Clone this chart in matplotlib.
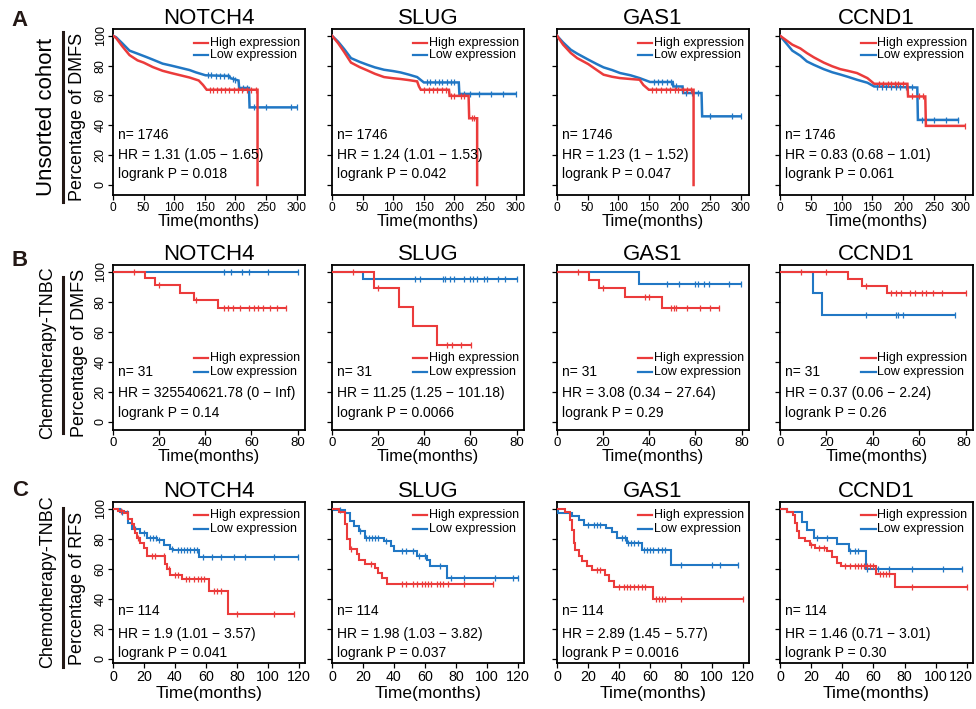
import numpy as np
import matplotlib
matplotlib.use('Agg')
import matplotlib.pyplot as plt
from matplotlib.lines import Line2D
from matplotlib.transforms import ScaledTranslation

plt.rcParams['font.family'] = ['Liberation Sans', 'DejaVu Sans']

# ---------------- data ----------------
genes = ['NOTCH4', 'SLUG', 'GAS1', 'CCND1']
row_letters = ['A', 'B', 'C']
row_groups = ['Unsorted cohort', 'Chemotherapy-TNBC', 'Chemotherapy-TNBC']
row_ylabels = ['Percentage of DMFS', 'Percentage of DMFS', 'Percentage of RFS']
legend_labels = ['High expression', 'Low expression']
n_values = ['1746', '31', '114']

hr_text = [
    ['1.31 (1.05 \u2212 1.65)', '1.24 (1.01 \u2212 1.53)', '1.23 (1 \u2212 1.52)', '0.83 (0.68 \u2212 1.01)'],
    ['325540621.78 (0 \u2212 Inf)', '11.25 (1.25 \u2212 101.18)', '3.08 (0.34 \u2212 27.64)', '0.37 (0.06 \u2212 2.24)'],
    ['1.9 (1.01 \u2212 3.57)', '1.98 (1.03 \u2212 3.82)', '2.89 (1.45 \u2212 5.77)', '1.46 (0.71 \u2212 3.01)'],
]
p_text = [
    ['0.018', '0.042', '0.047', '0.061'],
    ['0.14', '0.0066', '0.29', '0.26'],
    ['0.041', '0.037', '0.0016', '0.30'],
]

# Row A (unsorted cohort, DMFS) -- many events, curves given as points
a1_hi_t = [0, 5, 15, 27, 40, 50, 65, 81, 95, 108, 125, 140, 147, 153, 236, 236]
a1_hi_s = [100, 98.5, 93, 87, 83.5, 82, 79, 76.5, 75, 73.7, 72, 70, 67, 63.8, 63.8, 0]
a1_hi_c = [158, 163, 170, 176, 183, 190, 197, 204, 211, 218, 226, 233]
a1_lo_t = [0, 5, 15, 27, 40, 54, 65, 81, 95, 108, 125, 135, 151, 190, 192, 205, 206, 222, 223, 300]
a1_lo_s = [100, 99, 95, 90, 88, 85.8, 84, 81.3, 80, 78.7, 77, 75.5, 73.5, 73, 71.5, 70, 65, 65, 52, 52]
a1_lo_c = [155, 160, 168, 175, 182, 188, 196, 200, 212, 218, 230, 250, 290, 300]

a2_hi_t = [0, 10, 20, 31, 45, 58, 70, 85, 100, 112, 125, 139, 142, 145, 191, 192, 223, 224, 237, 237]
a2_hi_s = [100, 95, 89, 82, 79, 76.7, 74.5, 72.3, 71.5, 71, 70.3, 69.4, 66, 63.8, 63.8, 59.7, 59.7, 44.7, 44.7, 0]
a2_hi_c = [150, 158, 165, 172, 180, 186, 195, 200, 210, 215, 228, 232]
a2_lo_t = [0, 10, 20, 31, 45, 58, 70, 85, 100, 112, 125, 139, 150, 207, 208, 300]
a2_lo_s = [100, 96, 91, 85, 82.5, 80.5, 78.8, 77.2, 76.3, 75.4, 74, 72.3, 68.7, 68.7, 61, 61]
a2_lo_c = [155, 160, 168, 175, 180, 188, 195, 200, 215, 225, 240, 260, 280, 300]

a3_hi_t = [0, 10, 22.6, 33, 51, 65, 76, 90, 103, 120, 135, 141, 150, 223, 223]
a3_hi_s = [100, 94, 88.4, 85, 81, 77, 73.9, 72.5, 71.6, 71, 70.5, 67, 63.8, 63.8, 0]
a3_hi_c = [155, 162, 170, 178, 185, 192, 198, 205, 212, 218]
a3_lo_t = [0, 10, 22.6, 33, 51, 65, 76, 90, 103, 120, 135, 152, 189, 190, 205, 206, 236, 237, 300]
a3_lo_s = [100, 95.5, 90.6, 88, 84, 81, 78.8, 77, 75, 73.5, 71.6, 69, 69, 66, 66, 61.6, 61.6, 46, 46]
a3_lo_c = [158, 165, 172, 180, 186, 195, 210, 220, 230, 250, 285, 300]

a4_hi_t = [0, 10, 20, 33, 43.6, 55, 71, 85, 98, 110, 125, 142, 153, 207, 208, 236, 237, 300]
a4_hi_s = [100, 97, 94, 91.5, 88.4, 85.5, 82, 79.5, 77.6, 76.5, 75, 71.6, 67.8, 67.8, 59.3, 59.3, 39.6, 39.6]
a4_hi_c = [160, 167, 175, 180, 186, 192, 200, 215, 225, 232, 300]
a4_lo_t = [0, 10, 20, 33, 43.6, 55, 71, 85, 98, 110, 125, 142, 153, 223, 224, 289]
a4_lo_s = [100, 95, 90, 86.6, 82.8, 80.5, 77.6, 75.5, 74, 72.5, 70.5, 68.5, 66, 65.3, 43.6, 43.6]
a4_lo_c = [158, 165, 172, 180, 188, 195, 205, 215, 230, 250, 270, 289]

# Row B (chemotherapy TNBC, DMFS) -- step functions
b1_hi_t = [0, 14, 18, 29, 35, 45.7, 75]
b1_hi_s = [100, 95.6, 91.1, 86, 81.1, 75.6, 75.6]
b1_hi_c = [9, 20, 36, 48, 50, 52, 55, 59, 61, 63, 65, 68, 71, 75]
b1_lo_t = [0, 80]
b1_lo_s = [100, 100]
b1_lo_c = [48, 51, 56, 59, 67, 80]

b2_hi_t = [0, 18, 29, 35, 45.7, 60.3]
b2_hi_s = [100, 88.9, 76.2, 63.8, 51.1, 51.1]
b2_hi_c = [9, 20, 50, 52, 56, 60.3]
b2_lo_t = [0, 13.6, 80]
b2_lo_s = [100, 94.9, 94.9]
b2_lo_c = [36, 38, 48, 49, 51, 53, 57, 60, 61, 63, 66, 67, 72, 75, 80]

b3_hi_t = [0, 14, 18.3, 29.4, 45.5, 70.3]
b3_hi_s = [100, 94.4, 88.9, 82.9, 76, 76]
b3_hi_c = [9, 20, 38, 40, 49.4, 50.8, 51.5, 56.5, 62, 66.4, 70.3]
b3_lo_t = [0, 35.4, 79.7]
b3_lo_s = [100, 91.8, 91.8]
b3_lo_c = [47.8, 53, 60, 61, 63.8, 66, 74.6, 79.7]

b4_hi_t = [0, 29.5, 35.3, 46.1, 80]
b4_hi_s = [100, 95.1, 90.7, 86, 86]
b4_hi_c = [9, 20, 37, 48, 50, 52, 56, 58, 61, 63, 66, 70, 80]
b4_lo_t = [0, 14.1, 18.3, 75.6]
b4_lo_s = [100, 86, 71.1, 71.1]
b4_lo_c = [37, 50, 51, 53, 75.6]

# Row C (chemotherapy TNBC, RFS) -- step functions
c1_hi_t = [0, 3, 7, 10, 12, 13.4, 14.5, 15.6, 17.7, 20, 22, 33.5, 35, 37, 44.8, 62, 74, 117]
c1_hi_s = [100, 98.4, 96.9, 93.3, 89.6, 86.2, 84, 80.7, 77.3, 74, 68.4, 62.9, 59.6, 56.2, 52.9, 45.1, 30.2, 30.2]
c1_hi_c = [5, 9, 16, 25, 27, 33, 36, 40, 42, 47, 49, 52, 55, 57, 59, 65, 67, 70, 80, 104, 117]
c1_lo_t = [0, 4.8, 10, 12.3, 17.7, 22, 28.5, 33, 37, 39, 55.6, 119.4]
c1_lo_s = [100, 97.8, 90.7, 86.7, 84, 80.7, 79.1, 76.2, 73.3, 72.4, 68, 68]
c1_lo_c = [6, 14, 20, 24, 26, 28, 30, 38, 42, 44, 46, 48, 50, 52, 54, 58, 64, 70, 78, 85, 104, 119.4]

c2_hi_t = [0, 4.3, 8.6, 9.7, 11.5, 16.2, 17.5, 21.6, 28, 30, 32.4, 35.7, 103.8]
c2_hi_s = [100, 97.8, 89.6, 79.6, 72.9, 69.6, 66.2, 62.9, 60.7, 57.3, 54, 50.2, 50.2]
c2_hi_c = [12, 25, 45, 48, 52, 55, 58, 60, 62, 64, 68, 70, 72, 75, 85, 103.8]
c2_lo_t = [0, 1, 8.6, 11.9, 14, 17.3, 21.6, 33.5, 37.8, 40, 55, 61.6, 63, 74, 120]
c2_lo_s = [100, 99.1, 97.3, 91.8, 88.4, 85.1, 80.7, 78.4, 75.1, 71.8, 68.4, 65.8, 62.2, 54, 54]
c2_lo_c = [5, 18, 22, 24, 26, 28, 30, 35, 45, 48, 52, 56, 60, 70, 77, 85, 105, 117, 120]

c3_hi_t = [0, 5.4, 8.6, 9.7, 10.8, 11.9, 14, 16.2, 19.5, 22.7, 31, 33.5, 36.8, 62, 120]
c3_hi_s = [100, 97.6, 92.7, 86, 77.2, 72.7, 68.3, 65, 61.6, 59.4, 56, 51.7, 47.9, 40.1, 40.1]
c3_hi_c = [26, 28, 40, 43, 45, 47, 50, 52, 55, 57, 64, 66, 68, 70, 80, 120]
c3_lo_t = [0, 0.5, 9.7, 14, 17.3, 31.4, 35.7, 38.9, 45.4, 55, 73.5, 116.8]
c3_lo_s = [100, 97.3, 94.9, 92.7, 89.4, 87.1, 84.3, 80.5, 77.2, 72.7, 62.7, 62.7]
c3_lo_c = [20, 24, 26, 28, 42, 44, 46, 48, 50, 52, 56, 58, 60, 62, 65, 68, 70, 80, 100, 105, 116.8]

c4_hi_t = [0, 4.3, 8.6, 9.7, 10.8, 12.5, 16.2, 19.5, 22.7, 30.3, 33.5, 36.8, 39, 61.6, 74.2, 120]
c4_hi_s = [100, 97.6, 96, 90.5, 85, 80.5, 78.3, 76.1, 73.8, 71.6, 67.8, 63.9, 61.6, 56.8, 47.9, 47.9]
c4_hi_c = [20, 25, 28, 42, 45, 48, 50, 52, 54, 56, 58, 60, 64, 66, 68, 70, 85, 120]
c4_lo_t = [0, 4.3, 14, 17.3, 22, 36.8, 44.3, 55.1, 116.8]
c4_lo_s = [100, 97.6, 90.9, 86, 80.5, 76.7, 71.6, 60.1, 60.1]
c4_lo_c = [24, 30, 45, 48, 50, 56, 63, 70, 85, 105, 116.8]

curves = [
    [(a1_hi_t, a1_hi_s, a1_hi_c, a1_lo_t, a1_lo_s, a1_lo_c),
     (a2_hi_t, a2_hi_s, a2_hi_c, a2_lo_t, a2_lo_s, a2_lo_c),
     (a3_hi_t, a3_hi_s, a3_hi_c, a3_lo_t, a3_lo_s, a3_lo_c),
     (a4_hi_t, a4_hi_s, a4_hi_c, a4_lo_t, a4_lo_s, a4_lo_c)],
    [(b1_hi_t, b1_hi_s, b1_hi_c, b1_lo_t, b1_lo_s, b1_lo_c),
     (b2_hi_t, b2_hi_s, b2_hi_c, b2_lo_t, b2_lo_s, b2_lo_c),
     (b3_hi_t, b3_hi_s, b3_hi_c, b3_lo_t, b3_lo_s, b3_lo_c),
     (b4_hi_t, b4_hi_s, b4_hi_c, b4_lo_t, b4_lo_s, b4_lo_c)],
    [(c1_hi_t, c1_hi_s, c1_hi_c, c1_lo_t, c1_lo_s, c1_lo_c),
     (c2_hi_t, c2_hi_s, c2_hi_c, c2_lo_t, c2_lo_s, c2_lo_c),
     (c3_hi_t, c3_hi_s, c3_hi_c, c3_lo_t, c3_lo_s, c3_lo_c),
     (c4_hi_t, c4_hi_s, c4_hi_c, c4_lo_t, c4_lo_s, c4_lo_c)],
]

x_max_tick = [300, 80, 120]
x_step = [50, 20, 20]

# ---------------- style / layout ----------------
RED = '#EB3B3B'
BLUE = '#2177C4'
W, H = 976, 709
col_px = [(113, 192), (332, 192), (557, 192), (780, 193)]
row_px = [(29, 195), (265, 430), (502, 663)]
xlims = [(0, 313.5), (0, 83.2), (0, 124)]
ylims = [(-6.7, 104.5), (-5.6, 104.4), (-2.7, 104.5)]
xtick_size = [8.6, 9.5, 10.3]
xlabel_pad = [0.3, 0.3, 1.5]
xlabel_size = [12, 12, 12.5]
curve_lw = [1.8, 1.5, 1.5]
text_y = [(0.36, 0.24, 0.127), (0.35, 0.224, 0.103), (0.32, 0.18, 0.062)]
leg_y = [(0.917, 0.843), (0.436, 0.35), (0.92, 0.83)]
ylab_px = [(78, 117), (80, 353), (78, 588)]
group_px = [(47, 117, 16), (48, 353, 13), (48, 582, 13)]
bar_px = [(32, 202), (277, 433), (508, 667)]
letter_px = [(19, 21), (20, 260), (20, 491)]

fig = plt.figure(figsize=(W / 100, H / 100), dpi=100)


def step_value(t, s, c, linear):
    t = np.asarray(t, float)
    s = np.asarray(s, float)
    c = np.asarray(c, float)
    if linear:
        return np.interp(c, t, s)
    idx = np.searchsorted(t, c, side='right') - 1
    return s[np.clip(idx, 0, len(s) - 1)]


for r in range(3):
    top, bot = row_px[r]
    for ci in range(4):
        left, width = col_px[ci]
        ax = fig.add_axes([left / W, 1 - bot / H, width / W, (bot - top) / H])
        hi_t, hi_s, hi_c, lo_t, lo_s, lo_c = curves[r][ci]
        linear = (r == 0)
        ds = 'default' if linear else 'steps-post'
        for (t, s, c, col) in [(lo_t, lo_s, lo_c, BLUE), (hi_t, hi_s, hi_c, RED)]:
            ax.plot(t, s, color=col, lw=curve_lw[r], drawstyle=ds,
                    solid_joinstyle='miter', zorder=3)
            ax.plot(c, step_value(t, s, c, linear), ls='none', marker='|',
                    ms=4.5, mew=0.9, color=col, zorder=3)
        ax.set_xlim(*xlims[r])
        ax.set_ylim(*ylims[r])
        ax.set_xticks(np.arange(0, x_max_tick[r] + 1, x_step[r]))
        ax.set_yticks(np.arange(0, 101, 20))
        ax.tick_params(axis='x', direction='out', length=3.5, width=0.9, pad=1.2,
                       labelsize=xtick_size[r])
        ax.tick_params(axis='y', direction='out', length=3.5, width=0.9, pad=1.0,
                       labelsize=9, labelrotation=90)
        if ci > 0:
            ax.set_yticklabels([])
        else:
            for lab in ax.get_yticklabels():
                lab.set_va('center')
        if ci == 3:
            # keep the last tick label inside the figure's right edge
            last = ax.get_xticklabels()[-1]
            last.set_ha('right')
            last.set_transform(last.get_transform() +
                               ScaledTranslation(6 / 100, 0, fig.dpi_scale_trans))
        for sp in ax.spines.values():
            sp.set_linewidth(1.3)
        ax.set_title(genes[ci], fontsize=16, pad=2.5)
        ax.set_xlabel('Time(months)', fontsize=xlabel_size[r], labelpad=xlabel_pad[r])
        # annotations
        ty = text_y[r]
        ax.text(0.026, ty[0], 'n= ' + n_values[r], transform=ax.transAxes,
                fontsize=10, va='center', ha='left')
        ax.text(0.026, ty[1], 'HR = ' + hr_text[r][ci], transform=ax.transAxes,
                fontsize=10, va='center', ha='left')
        ax.text(0.026, ty[2], 'logrank P = ' + p_text[r][ci], transform=ax.transAxes,
                fontsize=10, va='center', ha='left')
        # legend (manual keys)
        for ly, lab, col in zip(leg_y[r], legend_labels, [RED, BLUE]):
            ax.plot([0.42, 0.495], [ly, ly], color=col, lw=1.6,
                    transform=ax.transAxes, clip_on=False, zorder=4)
            ax.text(0.503, ly, lab, transform=ax.transAxes, fontsize=9,
                    va='center', ha='left')

    # row labels
    x, y = ylab_px[r]
    fig.text(x / W, 1 - y / H, row_ylabels[r], rotation=90, fontsize=13,
             ha='center', va='center')
    x, y, fs = group_px[r]
    fig.text(x / W, 1 - y / H, row_groups[r], rotation=90, fontsize=fs,
             ha='center', va='center')
    y0, y1 = bar_px[r]
    fig.add_artist(Line2D([63 / W, 63 / W], [1 - y0 / H, 1 - y1 / H],
                          color='#231815', lw=2.2))
    x, y = letter_px[r]
    fig.text(x / W, 1 - y / H, row_letters[r], fontsize=16, fontweight='bold',
             ha='center', va='center', color='#231815')

fig.savefig('out.png', dpi=100)
